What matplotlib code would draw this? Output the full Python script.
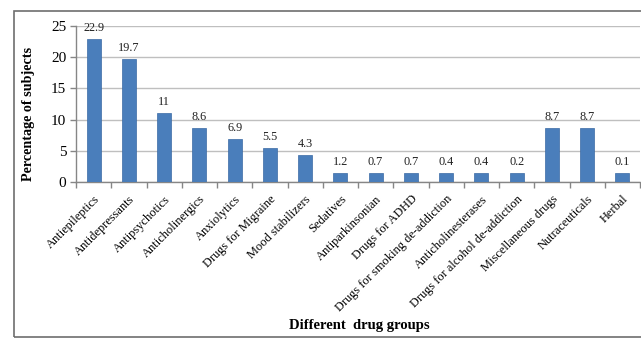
import matplotlib
matplotlib.use("Agg")
import matplotlib.pyplot as plt
from matplotlib.patches import Rectangle
import numpy as np

categories = ["Antiepileptics", "Antidepressants", "Antipsychotics", "Anticholinergics",
              "Anxiolytics", "Drugs for Migraine", "Mood stabilizers", "Sedatives",
              "Antiparkinsonian", "Drugs for ADHD", "Drugs for smoking de-addiction",
              "Anticholinesterases", "Drugs for alcohol de-addiction", "Miscellaneous drugs",
              "Nutraceuticals", "Herbal"]
# printed values
value_labels = ["22.9", "19.7", "11", "8.6", "6.9", "5.5", "4.3", "1.2", "0.7", "0.7",
                "0.4", "0.4", "0.2", "8.7", "8.7", "0.1"]
# bar heights as drawn in the picture
bar_heights = [22.9, 19.7, 11, 8.6, 6.9, 5.5, 4.3, 1.5, 1.5, 1.5, 1.5, 1.5, 1.5, 8.7, 8.7, 1.5]
yticks = [0, 5, 10, 15, 20, 25]

plt.rcParams['font.family'] = ['Liberation Serif', 'DejaVu Serif']

fig = plt.figure(figsize=(6.41, 3.4), dpi=100)
ax = fig.add_axes([76/641, 1-182/340, (640-76)/641, (182-26)/340])

x = np.arange(len(categories))
ax.bar(x, bar_heights, width=0.4, color="#4a7ebb", edgecolor="#3a6aa5", linewidth=0.5, zorder=3)
for xi, h, lab in zip(x, bar_heights, value_labels):
    ax.text(xi, h + 0.8, lab, ha="center", va="bottom", fontsize=8.8, color="#222222", zorder=4)

ax.set_xlim(-0.5, len(categories) - 0.5)
ax.set_ylim(0, 25)
ax.set_yticks(yticks)
ax.set_yticklabels([str(t) for t in yticks], fontsize=11)
ax.yaxis.grid(True, color="#bfbfbf", linewidth=1.0, zorder=0)
ax.set_axisbelow(True)

ax.set_xticks(np.arange(-0.5, len(categories) + 0.5, 1.0))
ax.set_xticklabels([])
ax.set_xticks(x, minor=True)
ax.set_xticklabels(categories, minor=True, rotation=45, ha="right", va="top",
                   rotation_mode="anchor", fontsize=8.9)
ax.tick_params(axis="x", which="minor", length=0, pad=8)
ax.tick_params(axis="x", which="major", length=4, color="#868686", width=1)
ax.tick_params(axis="y", length=4, color="#868686", width=1, pad=3)

for s in ["top", "right"]:
    ax.spines[s].set_visible(False)
for s in ["left", "bottom"]:
    ax.spines[s].set_color("#868686")
    ax.spines[s].set_linewidth(1)

ax.set_ylabel("Percentage of subjects", fontsize=10.2, fontweight="bold")
ax.yaxis.set_label_coords((35 - 76) / 564, (182 - 114) / 156)
fig.text(359/641, 1-326/340, "Different  drug groups", ha="center", va="center",
         fontsize=10.5, fontweight="bold")

fig.patches.append(Rectangle((14/641, 3/340), 1.0, (337-11)/340, transform=fig.transFigure,
                             fill=False, edgecolor="#6e6e6e", linewidth=1.2, clip_on=False))

fig.savefig("out.png", dpi=100)
